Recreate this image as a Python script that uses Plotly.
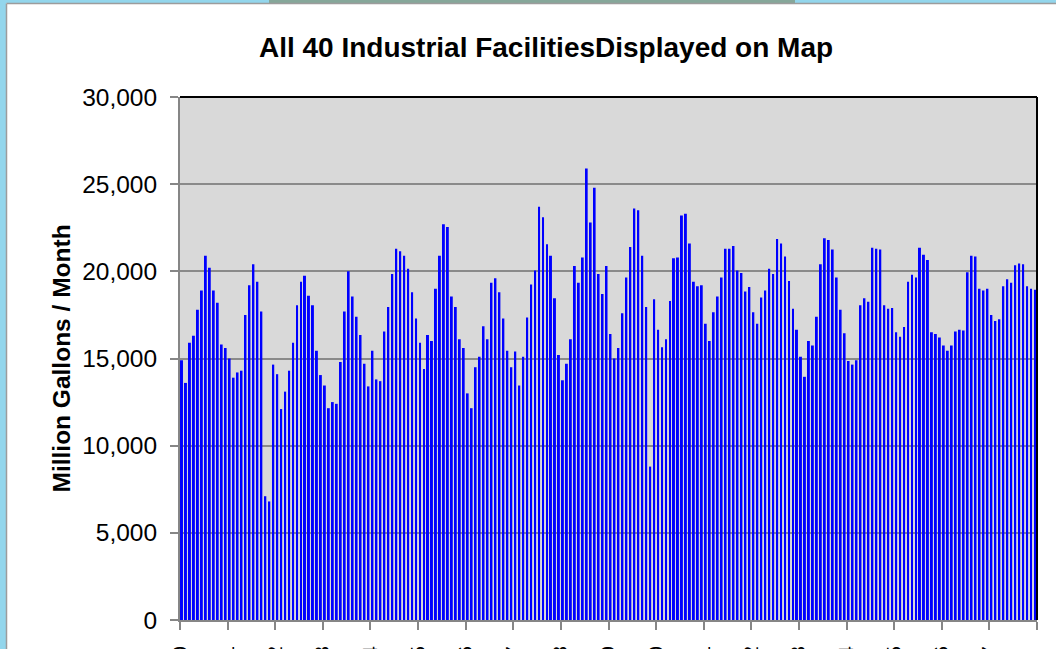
import plotly.graph_objects as go

# ---- data (million gallons / month), one list per year of monthly values ----
year_labels = ["Jan-90", "Jan-91", "Jan-92", "Jan-93", "Jan-94", "Jan-95",
               "Jan-96", "Jan-97", "Jan-98", "Jan-99", "Jan-00", "Jan-01",
               "Jan-02", "Jan-03", "Jan-04", "Jan-05", "Jan-06", "Jan-07"]

y01 = [14900, 13600, 15900, 16300, 17800, 18900, 20900, 20200, 18900, 18200, 15800, 15600]
y02 = [15000, 13900, 14200, 14300, 17500, 19200, 20400, 19400, 17700, 7100, 6800, 14650]
y03 = [14100, 12100, 13100, 14300, 15900, 18050, 19400, 19750, 18600, 18050, 15450, 14050]
y04 = [13450, 12150, 12500, 12400, 14800, 17700, 20000, 18550, 17400, 16350, 14700, 13400]
y05 = [15450, 13800, 13700, 16550, 17950, 19850, 21300, 21150, 20900, 20150, 18800, 17300]
y06 = [15900, 14400, 16350, 16000, 19000, 20900, 22700, 22550, 18550, 17950, 16100, 15600]
y07 = [13000, 12150, 14500, 15100, 16850, 16100, 19350, 19600, 18800, 17300, 15450, 14500]
y08 = [15400, 13450, 15100, 17350, 19250, 20050, 23700, 23100, 21550, 20900, 18450, 15200]
y09 = [13750, 14700, 16100, 20300, 19350, 20800, 25900, 22800, 24800, 19850, 18700, 20300]
y10 = [16400, 15000, 15600, 17600, 19650, 21400, 23600, 23500, 20900, 17950, 8800, 18400]
y11 = [16650, 15650, 16100, 18300, 20750, 20800, 23200, 23300, 21600, 19400, 19150, 19200]
y12 = [17000, 16000, 17650, 18550, 19650, 21300, 21300, 21450, 20050, 19900, 18850, 19100]
y13 = [17650, 17000, 18500, 18900, 20150, 19850, 21850, 21600, 20850, 19450, 17850, 16650]
y14 = [15100, 13950, 16000, 15750, 17400, 20400, 21900, 21800, 21250, 19650, 17800, 16450]
y15 = [14850, 14650, 14900, 18050, 18450, 18250, 21350, 21300, 21250, 18050, 17850, 17900]
y16 = [16500, 16250, 16800, 19400, 19800, 19650, 21350, 20950, 20650, 16500, 16400, 16200]
y17 = [15750, 15450, 15750, 16550, 16650, 16600, 19950, 20900, 20850, 19000, 18900, 19000]
y18 = [17500, 17150, 17250, 19150, 19550, 19350, 20350, 20450, 20400, 19150, 19000, 18950]

yearly = [y01, y02, y03, y04, y05, y06, y07, y08, y09,
          y10, y11, y12, y13, y14, y15, y16, y17, y18]
values = [v for yr in yearly for v in yr]
month_index = list(range(len(values)))

tick_vals = [12 * k - 0.5 for k in range(len(yearly) + 1)]
tick_text = year_labels + [""]

W, H = 1056, 649
L, R, T, B = 180, 19, 97, 29
PW, PH = W - L - R, H - T - B


def px_x(p):
    return (p - L) / PW


def px_y(p):
    return (H - B - p) / PH


fig = go.Figure(
    go.Bar(
        x=month_index,
        y=values,
        marker=dict(color="#0000FF", line=dict(width=0)),
        hoverinfo="y",
    )
)

fig.update_layout(
    width=W,
    height=H,
    margin=dict(l=L, r=R, t=T, b=B, autoexpand=False),
    paper_bgcolor="white",
    plot_bgcolor="#D9D9D9",
    bargap=0.5,
    showlegend=False,
    font=dict(family="Liberation Sans, Arial, sans-serif", color="black"),
    title=dict(
        text="<b>All 40 Industrial FacilitiesDisplayed on Map</b>",
        x=(262 + 830) / 2 / W,
        xanchor="center",
        xref="container",
        y=1 - 47 / H,
        yanchor="middle",
        yref="container",
        font=dict(size=28, family="Liberation Sans, Arial, sans-serif", color="black"),
    ),
)

fig.update_xaxes(
    range=[-0.5, len(values) - 0.5],
    tickmode="array",
    tickvals=tick_vals,
    ticktext=tick_text,
    tickangle=-90,
    ticks="outside",
    ticklen=8,
    tickwidth=2,
    tickcolor="#868686",
    ticklabelstandoff=8,
    tickfont=dict(size=20, color="black"),
    showline=True,
    linecolor="#868686",
    linewidth=2,
    showgrid=False,
    zeroline=False,
    automargin=False,
    fixedrange=True,
)

fig.update_yaxes(
    range=[0, 30000],
    tickmode="linear",
    tick0=0,
    dtick=5000,
    tickformat=",d",
    ticks="outside",
    ticklen=8,
    tickwidth=2,
    tickcolor="#868686",
    ticklabelstandoff=8,
    tickfont=dict(size=24.5, color="black"),
    showline=True,
    linecolor="#868686",
    linewidth=2,
    showgrid=True,
    gridcolor="#8A8A8A",
    gridwidth=2,
    zeroline=False,
    automargin=False,
    fixedrange=True,
)

fig.add_annotation(
    text="<b>Million Gallons / Month</b>",
    xref="paper",
    yref="paper",
    x=px_x(61),
    y=0.5,
    xanchor="center",
    yanchor="middle",
    textangle=-90,
    showarrow=False,
    font=dict(size=24.5, color="black"),
)

shapes = [
    # plot-area top and right borders
    dict(type="line", xref="paper", yref="paper", x0=0, x1=1, y0=1, y1=1,
         line=dict(color="black", width=2)),
    dict(type="line", xref="paper", yref="paper", x0=1, x1=1, y0=0, y1=1,
         line=dict(color="black", width=2)),
    # surrounding backdrop (left and top edges of the screenshot)
    dict(type="rect", xref="paper", yref="paper", x0=px_x(-20), x1=px_x(6),
         y0=px_y(H + 20), y1=px_y(-20), fillcolor="#93D6EC", line=dict(width=0)),
    dict(type="rect", xref="paper", yref="paper", x0=px_x(-20), x1=px_x(W + 20),
         y0=px_y(3), y1=px_y(-20), fillcolor="#93D6EC", line=dict(width=0)),
    dict(type="rect", xref="paper", yref="paper", x0=px_x(269), x1=px_x(795),
         y0=px_y(3), y1=px_y(-20), fillcolor="#86A79A", line=dict(width=0)),
    dict(type="line", xref="paper", yref="paper", x0=px_x(6.5), x1=px_x(6.5),
         y0=px_y(H + 20), y1=px_y(3.5), line=dict(color="#9C9C9C", width=1.5)),
    dict(type="line", xref="paper", yref="paper", x0=px_x(6.5), x1=px_x(W + 20),
         y0=px_y(3.5), y1=px_y(3.5), line=dict(color="#9C9C9C", width=1.5)),
]
fig.update_layout(shapes=shapes)

fig.write_html(
    "out.html",
    config={"displayModeBar": False},
    post_script="document.body.style.margin='0';document.body.style.overflow='hidden';",
)
